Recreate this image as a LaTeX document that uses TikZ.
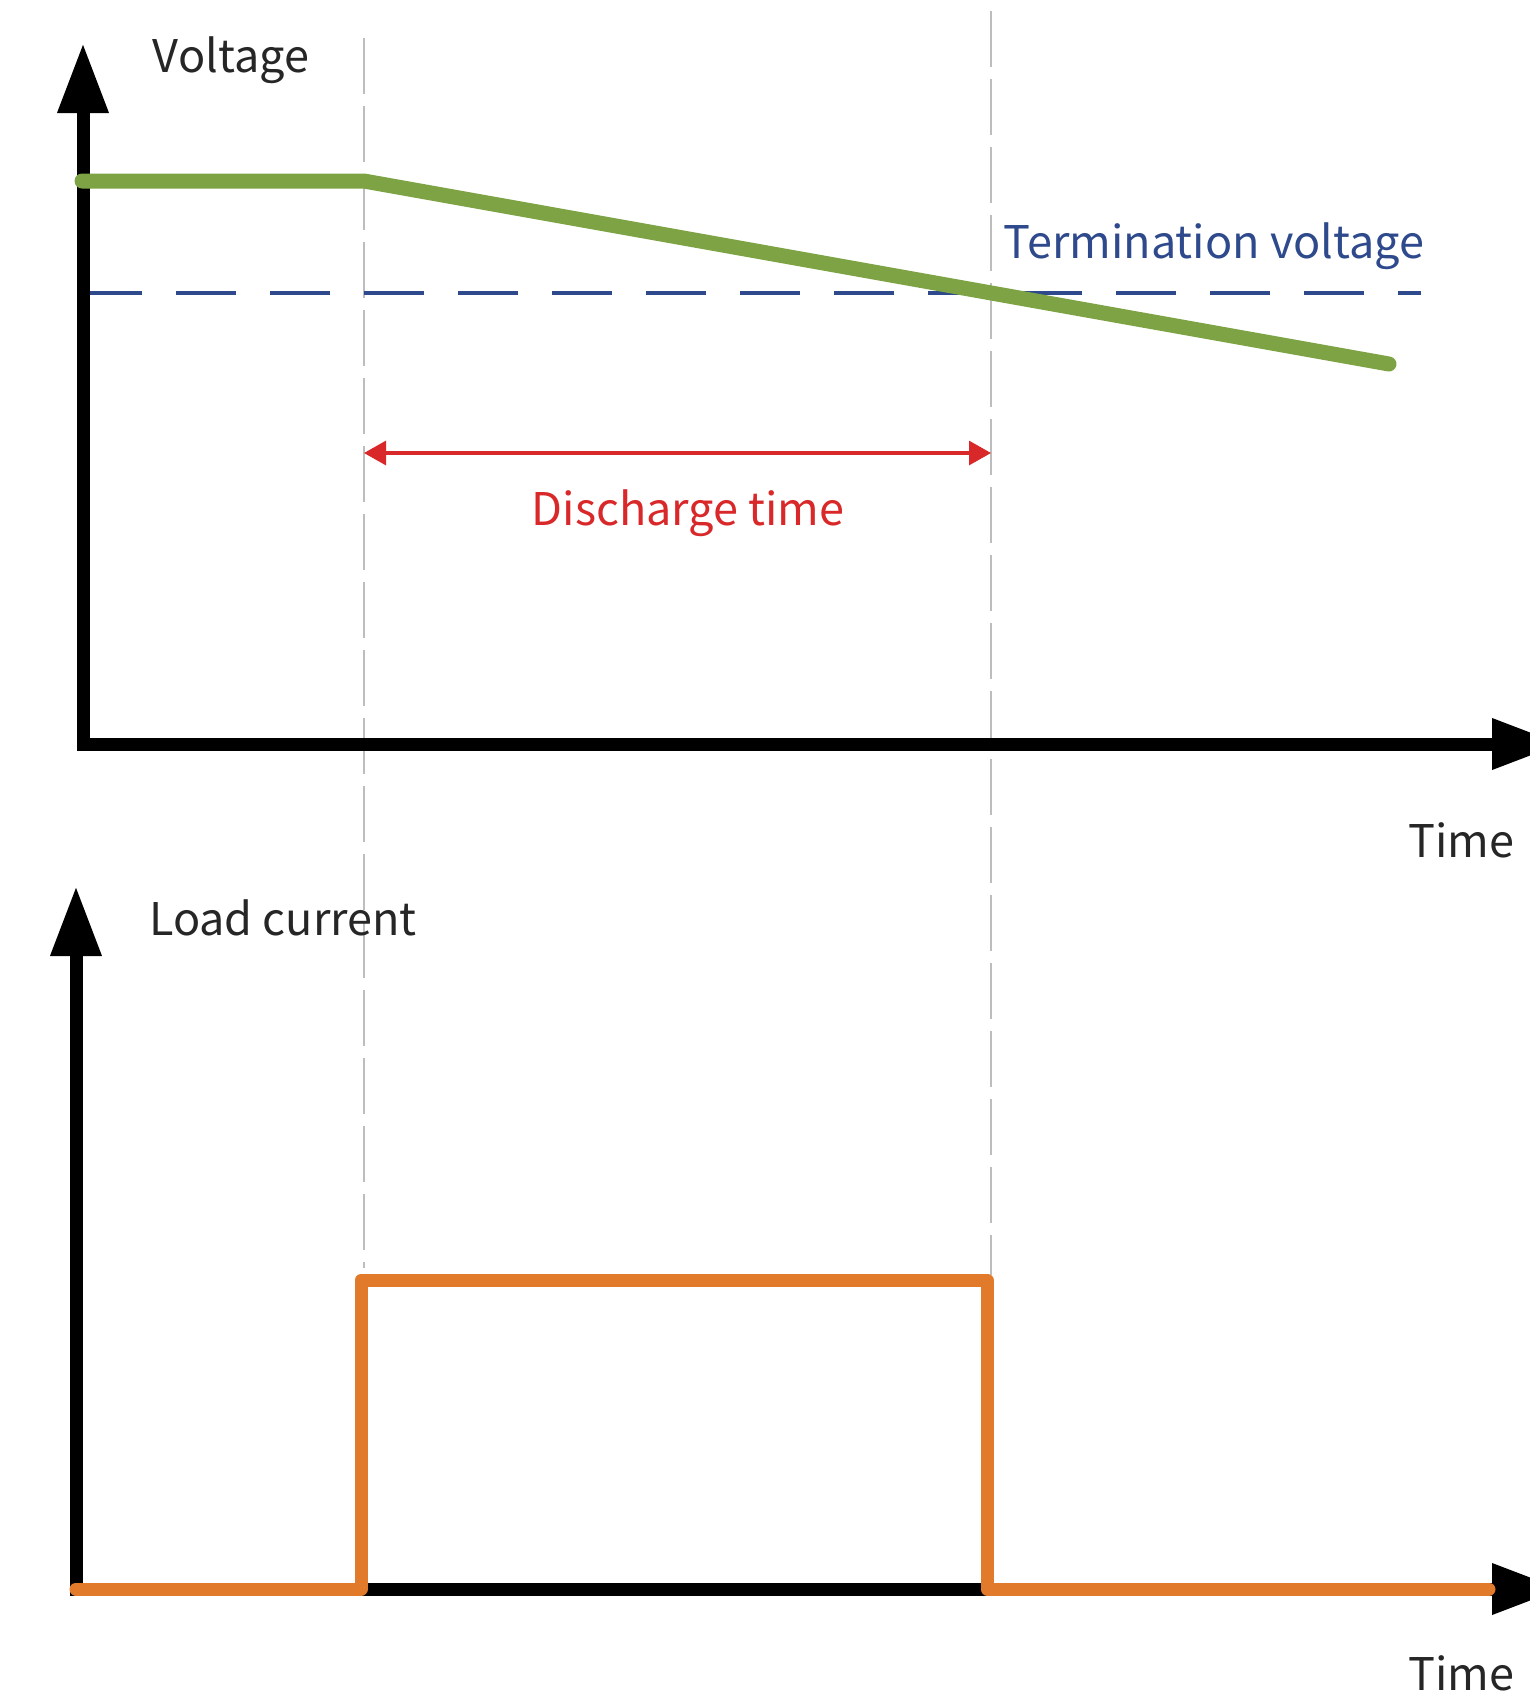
\documentclass[tikz,border=0pt]{standalone}
\usepackage{fontspec}
\setmainfont{Noto Sans CJK SC}
\usetikzlibrary{arrows.meta}
\definecolor{vgreen}{HTML}{7DA344}
\definecolor{iorange}{HTML}{E27A2C}
\definecolor{tblue}{HTML}{2E4A8C}
\definecolor{dred}{HTML}{D9282A}
\definecolor{lgray}{HTML}{BDBDBD}
\begin{document}
\begin{tikzpicture}[x=0.5pt, y=-0.5pt]
\tikzstyle{every node}=[font=\fontsize{22.5}{27}\selectfont, inner sep=0pt, text=black!85];
\tikzstyle{axis}=[line width=6.5pt, {Triangle[length=35pt,width=24pt]}-{Triangle[length=35pt,width=24pt]}];
\tikzstyle{guide}=[lgray, line width=1pt, dash pattern=on 28pt off 6pt];
\useasboundingbox (0,0) rectangle (1530,1704);
% voltage panel
\coordinate (ytop) at (83,43);
\coordinate (otop) at (83,744);
\coordinate (xtop) at (1562,744);
\coordinate (v0) at (82,181);
\coordinate (v1) at (364,181);
\coordinate (v2) at (1389,364);
\coordinate (t0) at (82,293);
\coordinate (t1) at (1421,293);
% current panel
\coordinate (ybot) at (76,886);
\coordinate (obot) at (76,1589);
\coordinate (xbot) at (1562,1589);
\coordinate (i0) at (76,1589);
\coordinate (i1) at (361,1589);
\coordinate (i2) at (361,1280);
\coordinate (i3) at (987,1280);
\coordinate (i4) at (987,1589);
\coordinate (i5) at (1489,1589);
% guides
\coordinate (g1a) at (364,38);
\coordinate (g1b) at (364,1268);
\coordinate (g2a) at (991,11);
\coordinate (g2b) at (991,1275);
\draw[guide] (g1a) -- (g1b);
\draw[guide] (g2a) -- (g2b);
\draw[tblue, line width=1.6pt, dash pattern=on 30pt off 17pt] (t0) -- (t1);
\draw[axis] (ytop) -- (otop) -- (xtop);
\draw[axis] (ybot) -- (obot) -- (xbot);
\draw[vgreen, line width=7.5pt, line cap=round, line join=round] (v0) -- (v1) -- (v2);
\draw[iorange, line width=6.5pt, line cap=round, line join=round]
(i0) -- (i1) -- (i2) -- (i3) -- (i4) -- (i5);
\coordinate (d0) at (364,453);
\coordinate (d1) at (991,453);
\draw[dred, line width=1.6pt, {Triangle[length=11pt,width=12pt]}-{Triangle[length=11pt,width=12pt]}] (d0) -- (d1);
\node (volt) at (231,60) {Voltage};
\node[text=tblue] (term) at (1214,246) {Termination voltage};
\node[text=dred] (dis) at (688,513) {Discharge time};
\node (time1) at (1461,840) {Time};
\node (load) at (283,918) {Load current};
\node (time2) at (1461,1673) {Time};
\end{tikzpicture}
\end{document}
